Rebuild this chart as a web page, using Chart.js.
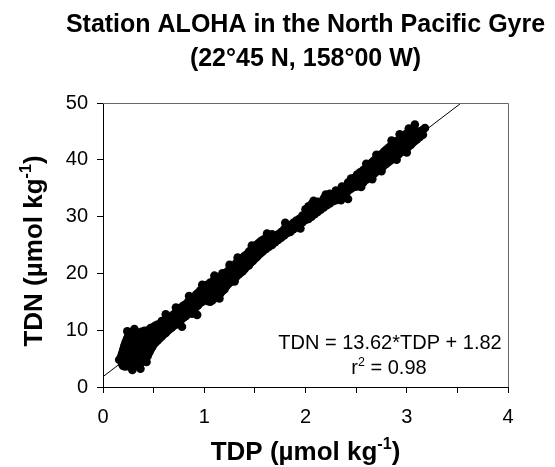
<!DOCTYPE html>
<html>
<head>
<meta charset="utf-8">
<script src="https://cdn.jsdelivr.net/npm/chart.js@4.4.1/dist/chart.umd.min.js"></script>
<style>
  html, body { margin: 0; padding: 0; background: #fff; }
  #wrap { width: 555px; height: 467px; }
</style>
</head>
<body>
<div id="wrap"><canvas id="chart" width="555" height="467"></canvas></div>
<script>
// TDP values (x) and the TDN readings (y) seen at each of them
var tdpGroups = [
  0.18, 0.19, 0.20, 0.21, 0.22, 0.23, 0.24, 0.25, 0.26, 0.27,
  0.28, 0.29, 0.30, 0.31, 0.32, 0.33, 0.34, 0.35, 0.36, 0.37,
  0.38, 0.39, 0.40, 0.41, 0.42, 0.43, 0.44, 0.45, 0.46, 0.47,
  0.48, 0.49, 0.50, 0.52, 0.54, 0.56, 0.58, 0.60, 0.62, 0.64,
  0.66, 0.68, 0.70, 0.72, 0.74, 0.76, 0.78, 0.80, 0.82, 0.84,
  0.86, 0.88, 0.90, 0.92, 0.93, 0.94, 0.96, 0.98, 1.00, 1.02,
  1.04, 1.06, 1.08, 1.10, 1.12, 1.14, 1.16, 1.18, 1.20, 1.22,
  1.24, 1.26, 1.28, 1.30, 1.32, 1.34, 1.36, 1.38, 1.40, 1.42,
  1.44, 1.46, 1.48, 1.50, 1.52, 1.54, 1.56, 1.58, 1.61, 1.64,
  1.67, 1.70, 1.73, 1.76, 1.79, 1.82, 1.85, 1.88, 1.91, 1.94,
  1.97, 2.00, 2.03, 2.06, 2.09, 2.12, 2.15, 2.18, 2.21, 2.24,
  2.27, 2.30, 2.33, 2.36, 2.39, 2.42, 2.45, 2.48, 2.51, 2.54,
  2.57, 2.60, 2.62, 2.64, 2.66, 2.68, 2.70, 2.72, 2.74, 2.76,
  2.78, 2.80, 2.82, 2.84, 2.86, 2.88, 2.90, 2.92, 2.94, 2.96,
  2.98, 3.00, 3.02, 3.04, 3.06, 3.08, 3.10, 3.13, 3.16, 3.18
];
var tdnGroups = [
  [4.6, 5.4], [4.0, 6.0], [3.7, 5.0, 6.6], [4.4, 5.7, 7.2], [3.6, 4.9, 6.3, 7.7],
  [4.1, 5.5, 6.9, 8.2], [3.8, 4.6, 6.0, 7.4, 8.6], [4.3, 5.2, 6.6, 7.9, 8.9],
  [3.6, 4.8, 5.8, 7.1, 8.4, 9.2], [4.1, 5.4, 6.4, 7.7, 9.0],
  [3.7, 4.6, 6.0, 7.0, 8.3, 9.4], [4.2, 5.1, 6.6, 7.6, 8.8], [3.6, 4.8, 5.7, 7.2, 8.1, 9.5],
  [4.3, 5.3, 6.3, 7.8, 8.9], [3.9, 4.9, 6.0, 6.9, 8.4, 9.3], [4.5, 5.6, 6.6, 7.5, 9.0],
  [3.8, 5.1, 6.2, 7.2, 8.2, 9.6], [4.4, 5.8, 6.9, 7.9, 8.8], [4.1, 5.3, 6.4, 7.6, 8.5, 9.4],
  [4.7, 6.0, 7.1, 8.2, 9.1],
  [4.3, 5.5, 6.7, 7.8, 8.9, 9.7], [5.0, 6.2, 7.4, 8.6], [4.6, 5.8, 7.0, 8.1, 9.3],
  [5.3, 6.5, 7.7, 9.0, 9.9], [5.0, 6.1, 7.3, 8.4, 9.6], [5.6, 6.8, 8.0, 9.2],
  [5.4, 6.4, 7.6, 8.7, 9.9], [5.9, 7.1, 8.3, 9.5], [6.2, 7.4, 8.8, 10.1], [6.6, 7.9, 9.2, 10.4],
  [6.9, 8.4, 9.6], [7.2, 8.1, 9.0, 10.3], [7.5, 8.7, 9.8, 10.6], [7.9, 8.8, 9.9, 10.8],
  [8.2, 9.3, 10.4, 11.0], [8.6, 9.6, 10.7], [8.9, 9.9, 11.1, 11.6], [9.3, 10.3, 11.2],
  [9.5, 10.5, 11.5, 12.1], [9.9, 10.9, 12.0],
  [10.2, 11.2, 12.3], [10.5, 11.5, 12.5], [10.8, 11.9, 12.8], [11.0, 12.1, 13.2],
  [11.4, 12.4, 13.5], [11.7, 12.8, 13.8], [10.6, 12.0, 13.0, 14.1], [12.3, 13.3, 14.4],
  [12.5, 13.6, 14.6], [12.9, 13.9, 15.0],
  [13.2, 14.2, 15.3], [13.5, 14.6, 15.6], [13.8, 14.9, 15.9], [14.1, 15.2, 16.3], [12.7],
  [14.4, 15.5, 16.6], [14.8, 15.9, 17.0], [15.0, 16.2, 17.3], [15.3, 16.4, 17.6], [15.5, 16.8, 17.9],
  [15.1, 16.3, 17.2, 18.1], [15.0, 16.2, 17.4, 18.4], [15.3, 16.6, 17.8], [15.6, 16.9, 18.2, 18.9],
  [15.9, 17.2, 18.5], [16.1, 17.5, 18.8, 19.4], [16.5, 17.8, 19.1], [16.9, 18.1, 19.4, 20.0],
  [17.2, 18.4, 19.7], [17.8, 19.0, 20.2],
  [18.2, 19.4, 20.5], [18.5, 19.7, 20.9], [18.8, 20.1, 21.2], [19.1, 20.4, 21.5],
  [19.5, 20.7, 21.9], [19.8, 21.1, 22.1], [20.1, 21.4, 22.5], [20.4, 21.7, 22.8],
  [20.8, 22.0, 23.1], [21.2, 22.4, 23.3],
  [21.4, 22.7, 23.8], [21.9, 23.0, 24.1], [22.2, 23.4, 24.5], [22.6, 23.7, 24.8],
  [22.9, 24.0, 25.1], [23.3, 24.4, 25.4], [23.6, 24.6, 25.7], [23.9, 25.0, 25.9],
  [24.3, 25.4, 26.2], [24.7, 25.7, 26.5],
  [25.0, 26.1, 26.9], [25.5, 26.4], [25.9, 26.9], [26.3, 27.3], [26.7, 27.8],
  [27.1, 28.2], [27.3, 28.5], [27.8, 28.9], [28.1, 29.3], [28.6, 29.6],
  [29.0, 30.2], [29.4, 30.5, 31.3], [29.6, 30.7, 31.8], [30.0, 31.2, 32.2], [30.4, 31.5],
  [30.8, 31.9, 32.6], [31.2, 32.2], [31.6, 32.6, 33.2], [32.0, 32.9], [32.3, 33.3, 34.0],
  [32.7, 33.6], [32.9, 34.0, 34.6], [33.4, 34.3], [33.7, 34.7, 35.3], [34.1, 35.1],
  [33.1, 34.5, 35.4, 36.0], [34.9, 35.8], [35.2, 36.1, 36.8], [35.3, 36.3, 37.4], [35.8, 36.8, 37.8],
  [36.0, 37.1, 38.2], [36.5, 37.5, 38.6], [36.8, 37.9, 38.9], [37.0, 38.3, 39.3], [37.4, 38.5, 39.6],
  [37.6, 38.8, 39.9], [37.9, 39.1, 40.2], [38.1, 39.4, 40.5], [38.5, 39.7, 40.9], [38.7, 40.0, 41.1],
  [39.1, 40.3, 41.5], [39.3, 40.6, 41.8], [39.6, 40.9, 42.1], [39.9, 41.1, 42.4], [40.2, 41.5, 42.7],
  [40.4, 41.8, 43.0], [40.8, 42.0, 43.3], [41.0, 42.3, 43.5], [41.3, 42.6, 43.9], [41.5, 42.9, 44.1],
  [41.9, 43.2, 44.4], [42.0, 43.4, 44.6], [42.4, 43.7, 44.9], [42.6, 44.0, 45.2], [43.0, 44.3],
  [43.3, 44.6, 46.2], [43.6, 44.9], [44.0, 45.0], [44.4, 45.3], [45.6]
];

// stray points sticking out of the band
var edgeTdp = [0.16, 0.24, 0.31, 0.43, 0.37, 0.29, 0.62, 0.72, 0.85, 0.88,
               0.98, 1.10, 1.15, 1.25, 1.30, 1.33, 1.47, 1.62, 1.80, 1.95,
               2.08, 2.20, 2.35, 2.45, 2.55, 2.60, 2.66, 2.70, 2.75, 2.85,
               2.90, 2.93, 3.00, 3.02];
var edgeTdn = [4.8, 9.8, 10.2, 4.4, 3.2, 3.0, 12.8, 14.0, 16.0, 12.9,
               18.0, 19.6, 15.6, 21.5, 18.6, 22.8, 24.9, 27.0, 28.9, 27.9,
               32.8, 33.9, 32.9, 36.7, 35.2, 39.3, 36.6, 40.9, 38.0, 43.4,
               40.0, 44.5, 41.3, 45.5];

// regression shown on the figure
var fitSlope = 13.62;
var fitIntercept = 1.82;
var fitRange = [0, 4];

var xTicks = [0, 1, 2, 3, 4];
var yTicks = [0, 10, 20, 30, 40, 50];

var titleLines = ['Station ALOHA in the North Pacific Gyre', '(22\u00b045 N, 158\u00b000 W)'];

var samples = [];
tdpGroups.forEach(function(x, i){
    tdnGroups[i].forEach(function(y){
        samples.push({x: x, y: y});
    });
});
edgeTdp.forEach(function(x, i){
    samples.push({x: x, y: edgeTdn[i]});
});

var fitLine = fitRange.map(function(x){
    return {x: x, y: fitSlope * x + fitIntercept};
});

var FONT = '"Liberation Sans", Arial, sans-serif';

// draws text with superscript parts, centred on x
function drawRich(ctx, parts, x, y, size, bold){
    var w = 0;
    parts.forEach(function(p){
        var s = p.sup ? size * 0.62 : size;
        ctx.font = (bold ? 'bold ' : '') + s + 'px ' + FONT;
        p.w = ctx.measureText(p.t).width;
        w += p.w;
    });
    var cx = x - w / 2;
    parts.forEach(function(p){
        var s = p.sup ? size * 0.62 : size;
        ctx.font = (bold ? 'bold ' : '') + s + 'px ' + FONT;
        ctx.fillText(p.t, cx, p.sup ? y - size * 0.42 : y);
        cx += p.w;
    });
}

var textPlugin = {
    id: 'texts',
    afterDraw: function(chart){
        var ctx = chart.ctx;
        var a = chart.chartArea;
        ctx.save();
        // box around plot (top and right)
        ctx.strokeStyle = '#666';
        ctx.lineWidth = 1;
        ctx.beginPath();
        ctx.moveTo(a.left, a.top + 0.5);
        ctx.lineTo(a.right + 0.5, a.top + 0.5);
        ctx.lineTo(a.right + 0.5, a.bottom);
        ctx.stroke();

        ctx.fillStyle = '#000';
        ctx.textAlign = 'left';
        ctx.textBaseline = 'alphabetic';

        // title
        ctx.textAlign = 'center';
        ctx.font = 'bold 25px ' + FONT;
        var mid = (a.left + a.right) / 2;
        ctx.fillText(titleLines[0], mid, 32);
        ctx.fillText(titleLines[1], mid, 66);
        ctx.textAlign = 'left';

        // x axis title
        drawRich(ctx, [{t: 'TDP (\u00b5mol kg'}, {t: '-1', sup: true}, {t: ')'}], mid, 460, 26, true);

        // y axis title
        ctx.save();
        ctx.translate(42, 251);
        ctx.rotate(-Math.PI / 2);
        drawRich(ctx, [{t: 'TDN (\u00b5mol kg'}, {t: '-1', sup: true}, {t: ')'}], 0, 0, 26, true);
        ctx.restore();

        // regression text
        drawRich(ctx, [{t: 'TDN = ' + fitSlope.toFixed(2) + '*TDP + ' + fitIntercept.toFixed(2)}], 390, 349, 20, false);
        drawRich(ctx, [{t: 'r'}, {t: '2', sup: true}, {t: ' = 0.98'}], 389, 374, 20, false);
        ctx.restore();
    }
};

new Chart(document.getElementById('chart'), {
    type: 'scatter',
    data: {
        datasets: [{
            label: 'TDN vs TDP',
            data: samples,
            pointRadius: 4.3,
            pointHoverRadius: 4.3,
            backgroundColor: '#000',
            borderWidth: 0
        }, {
            label: 'fit',
            data: fitLine,
            showLine: true,
            pointRadius: 0,
            borderColor: '#000',
            borderWidth: 1,
            fill: false
        }]
    },
    options: {
        responsive: false,
        animation: false,
        events: [],
        layout: { padding: { left: 0, top: 103, right: 47, bottom: 0 } },
        plugins: {
            legend: { display: false },
            title: { display: false },
            tooltip: { enabled: false }
        },
        scales: {
            x: {
                type: 'linear',
                min: 0,
                max: 4,
                afterFit: function(scale){ scale.height = 80; },
                afterBuildTicks: function(scale){
                    var t = [];
                    for (var i = 0; i < xTicks.length; i++) {
                        t.push({value: xTicks[i]});
                        if (i < xTicks.length - 1) t.push({value: (xTicks[i] + xTicks[i + 1]) / 2});
                    }
                    scale.ticks = t;
                },
                ticks: {
                    color: '#000',
                    padding: 12,
                    maxRotation: 0,
                    autoSkip: false,
                    font: { family: FONT, size: 20 },
                    callback: function(v){ return xTicks.indexOf(v) >= 0 ? String(v) : ''; }
                },
                grid: { drawOnChartArea: false, drawTicks: true, tickLength: 6, color: '#000' },
                border: { color: '#000', width: 1 }
            },
            y: {
                type: 'linear',
                min: 0,
                max: 50,
                afterFit: function(scale){ scale.width = 103; },
                afterBuildTicks: function(scale){
                    scale.ticks = yTicks.map(function(v){ return {value: v}; });
                },
                ticks: {
                    color: '#000',
                    padding: 9,
                    font: { family: FONT, size: 20 }
                },
                grid: { drawOnChartArea: false, drawTicks: true, tickLength: 6, color: '#000' },
                border: { color: '#000', width: 1 }
            }
        }
    },
    plugins: [textPlugin]
});
</script>
</body>
</html>
